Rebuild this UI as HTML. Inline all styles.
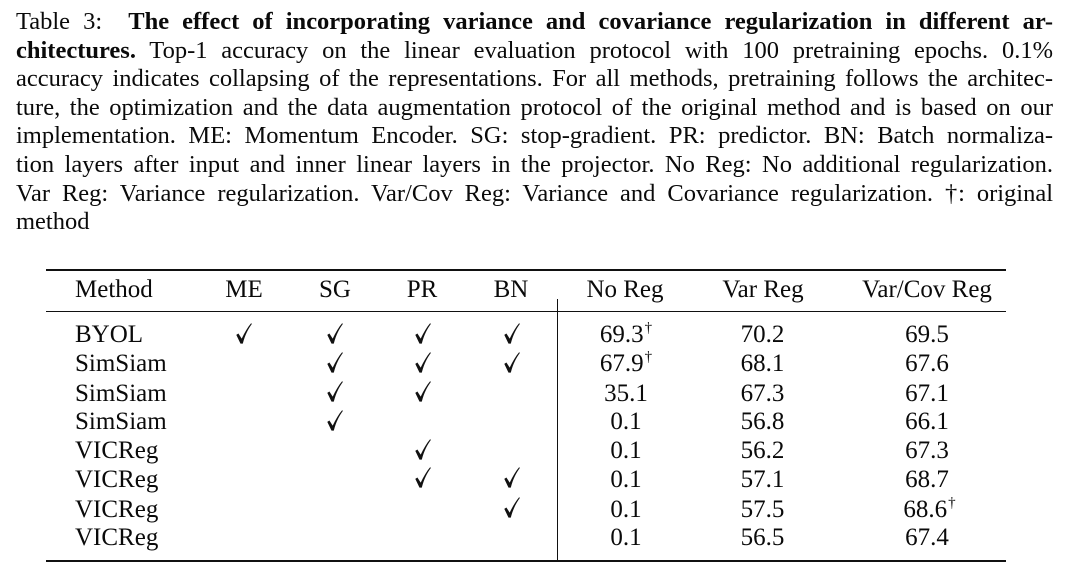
<!DOCTYPE html>
<html>
<head>
<meta charset="utf-8">
<style>
  html, body { margin:0; padding:0; background:#fff; }
  body { width:1080px; height:583px; position:relative; overflow:hidden; color:#0a0a0a;
         font-family:"Liberation Serif", "Times New Roman", serif; }
  .cl { position:absolute; left:16px; width:1037px; font-size:24.5px; line-height:28.6px;
        white-space:normal; text-align:justify; text-align-last:justify; }
  .cl.last { text-align:left; text-align-last:left; }
  b { font-weight:bold; }
  .t { position:absolute; font-size:25px; line-height:29px; white-space:nowrap; }
  .c { position:absolute; width:200px; text-align:center; font-size:25px; line-height:29px; white-space:nowrap; }
  .dg { font-size:15px; position:relative; top:-10px; margin-left:1px; }
  .rule { position:absolute; background:#111; }
  svg.ck { position:absolute; width:16px; height:21px; overflow:visible; }
</style>
</head>
<body>
<div class="cl" style="top:8px">Table 3:&nbsp; <b>The effect of incorporating variance and covariance regularization in different ar-</b></div>
<div class="cl" style="top:36.6px"><b>chitectures.</b> Top-1 accuracy on the linear evaluation protocol with 100 pretraining epochs. 0.1%</div>
<div class="cl" style="top:65.2px">accuracy indicates collapsing of the representations. For all methods, pretraining follows the architec-</div>
<div class="cl" style="top:93.8px">ture, the optimization and the data augmentation protocol of the original method and is based on our</div>
<div class="cl" style="top:122.4px">implementation. ME: Momentum Encoder. SG: stop-gradient. PR: predictor. BN: Batch normaliza-</div>
<div class="cl" style="top:151px">tion layers after input and inner linear layers in the projector. No Reg: No additional regularization.</div>
<div class="cl" style="top:179.6px">Var Reg: Variance regularization. Var/Cov Reg: Variance and Covariance regularization. <span style="letter-spacing:-5px">†</span>: original</div>
<div class="cl last" style="top:208.2px">method</div>

<!-- rules -->
<div class="rule" style="left:46px; width:960px; top:269px; height:2px;"></div>
<div class="rule" style="left:46px; width:960px; top:311px; height:1.4px;"></div>
<div class="rule" style="left:46px; width:960px; top:560px; height:2px;"></div>
<div class="rule" style="left:557px; width:1.1px; top:299px; height:262px;"></div>

<!-- header -->
<div class="t" style="left:75px; top:275px">Method</div>
<div class="c" style="left:144px; top:275px">ME</div>
<div class="c" style="left:235px; top:275px">SG</div>
<div class="c" style="left:322px; top:275px">PR</div>
<div class="c" style="left:411px; top:275px">BN</div>
<div class="c" style="left:525px; top:275px">No Reg</div>
<div class="c" style="left:663px; top:275px">Var Reg</div>
<div class="c" style="left:827px; top:275px">Var/Cov Reg</div>

<!-- rows -->
<div class="t" style="left:75px; top:319.8px">BYOL</div>
<div class="t" style="left:75px; top:348.8px">SimSiam</div>
<div class="t" style="left:75px; top:378.6px">SimSiam</div>
<div class="t" style="left:75px; top:407.1px">SimSiam</div>
<div class="t" style="left:75px; top:436.1px">VICReg</div>
<div class="t" style="left:75px; top:464.8px">VICReg</div>
<div class="t" style="left:75px; top:494.6px">VICReg</div>
<div class="t" style="left:75px; top:523.1px">VICReg</div>

<!-- No Reg -->
<div class="c" style="left:526px; top:319.8px">69.3<span class="dg">†</span></div>
<div class="c" style="left:526px; top:348.8px">67.9<span class="dg">†</span></div>
<div class="c" style="left:526px; top:378.6px">35.1</div>
<div class="c" style="left:526px; top:407.1px">0.1</div>
<div class="c" style="left:526px; top:436.1px">0.1</div>
<div class="c" style="left:526px; top:464.8px">0.1</div>
<div class="c" style="left:526px; top:494.6px">0.1</div>
<div class="c" style="left:526px; top:523.1px">0.1</div>

<!-- Var Reg -->
<div class="c" style="left:662.5px; top:319.8px">70.2</div>
<div class="c" style="left:662.5px; top:348.8px">68.1</div>
<div class="c" style="left:662.5px; top:378.6px">67.3</div>
<div class="c" style="left:662.5px; top:407.1px">56.8</div>
<div class="c" style="left:662.5px; top:436.1px">56.2</div>
<div class="c" style="left:662.5px; top:464.8px">57.1</div>
<div class="c" style="left:662.5px; top:494.6px">57.5</div>
<div class="c" style="left:662.5px; top:523.1px">56.5</div>

<!-- Var/Cov Reg -->
<div class="c" style="left:827px; top:319.8px">69.5</div>
<div class="c" style="left:827px; top:348.8px">67.6</div>
<div class="c" style="left:827px; top:378.6px">67.1</div>
<div class="c" style="left:827px; top:407.1px">66.1</div>
<div class="c" style="left:827px; top:436.1px">67.3</div>
<div class="c" style="left:827px; top:464.8px">68.7</div>
<div class="c" style="left:829.5px; top:494.6px">68.6<span class="dg">†</span></div>
<div class="c" style="left:827px; top:523.1px">67.4</div>

<!-- checkmarks (icon shapes) -->
<svg width="0" height="0" style="position:absolute">
  <defs>
    <path id="ck" d="M0.3,11.9 L2.4,10.5 L5.7,15.6 C8.6,9.4 11.6,4.4 15.1,0.2 L15.9,0.9 C12.4,5.6 9,12 6.8,20.6 L4.5,20.6 Z" fill="#111"/>
  </defs>
</svg>
<!-- BYOL: ME SG PR BN -->
<svg class="ck" style="left:236px; top:322.5px"><use href="#ck"/></svg>
<svg class="ck" style="left:327px; top:322.5px"><use href="#ck"/></svg>
<svg class="ck" style="left:415px; top:322.5px"><use href="#ck"/></svg>
<svg class="ck" style="left:504px; top:322.5px"><use href="#ck"/></svg>
<!-- SimSiam 1: SG PR BN -->
<svg class="ck" style="left:327px; top:351.5px"><use href="#ck"/></svg>
<svg class="ck" style="left:415px; top:351.5px"><use href="#ck"/></svg>
<svg class="ck" style="left:504px; top:351.5px"><use href="#ck"/></svg>
<!-- SimSiam 2: SG PR -->
<svg class="ck" style="left:327px; top:381px"><use href="#ck"/></svg>
<svg class="ck" style="left:415px; top:381px"><use href="#ck"/></svg>
<!-- SimSiam 3: SG -->
<svg class="ck" style="left:327px; top:409.5px"><use href="#ck"/></svg>
<!-- VICReg 1: PR -->
<svg class="ck" style="left:415px; top:438.5px"><use href="#ck"/></svg>
<!-- VICReg 2: PR BN -->
<svg class="ck" style="left:415px; top:467px"><use href="#ck"/></svg>
<svg class="ck" style="left:504px; top:467px"><use href="#ck"/></svg>
<!-- VICReg 3: BN -->
<svg class="ck" style="left:504px; top:497px"><use href="#ck"/></svg>
</body>
</html>
